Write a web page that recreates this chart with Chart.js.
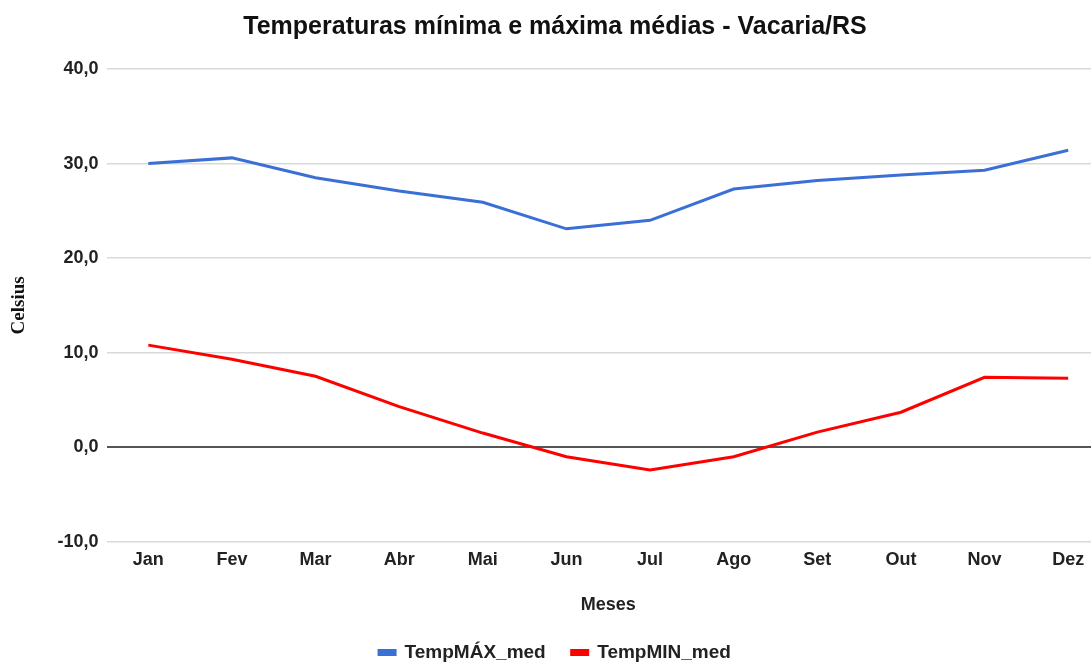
<!DOCTYPE html>
<html>
<head>
<meta charset="utf-8">
<script src="https://cdn.jsdelivr.net/npm/chart.js@4.4.1/dist/chart.umd.min.js"></script>
<style>
  html, body { margin: 0; padding: 0; background: #fff; overflow: hidden; }
  #wrap { width: 1110px; height: 672px; position: relative; }
</style>
</head>
<body>
<div id="wrap"><canvas id="chart"></canvas></div>
<script>
// ─── Dados ───────────────────────────────────────────────────────────────
const meses = ['Jan', 'Fev', 'Mar', 'Abr', 'Mai', 'Jun', 'Jul', 'Ago', 'Set', 'Out', 'Nov', 'Dez'];
const tempMaxMed = [30.0, 30.6, 28.5, 27.1, 25.9, 23.1, 24.0, 27.3, 28.2, 28.8, 29.3, 31.4];
const tempMinMed = [10.8, 9.3, 7.5, 4.3, 1.5, -1.0, -2.4, -1.0, 1.6, 3.7, 7.4, 7.3];
const yTicks = [-10, 0, 10, 20, 30, 40];

const FONT = "'Liberation Sans', Arial, sans-serif";

new Chart(document.getElementById('chart'), {
  type: 'line',
  data: {
    labels: meses,
    datasets: [
      { label: 'TempMÁX_med', data: tempMaxMed, borderColor: '#3a6fd6', backgroundColor: '#3a6fd6',
        borderWidth: 3, pointRadius: 0, tension: 0 },
      { label: 'TempMIN_med', data: tempMinMed, borderColor: '#ff0000', backgroundColor: '#ff0000',
        borderWidth: 3, pointRadius: 0, tension: 0 },
    ],
  },
  options: {
    responsive: true,
    maintainAspectRatio: false,
    animation: false,
    layout: { padding: { top: 8, bottom: 0, left: 0, right: 0 } },
    plugins: {
      title: {
        display: true,
        text: 'Temperaturas mínima e máxima médias - Vacaria/RS',
        color: '#111',
        font: { family: FONT, size: 25, weight: 'bold' },
        padding: { top: 4, bottom: 27 },
      },
      legend: {
        position: 'bottom',
        labels: {
          color: '#222',
          font: { family: FONT, size: 19, weight: 'bold' },
          boxWidth: 16,
          boxHeight: 4,
          padding: 26,
        },
      },
      tooltip: { enabled: false },
    },
    scales: {
      x: {
        offset: true,
        grid: { display: false, drawTicks: false },
        border: { display: false },
        ticks: { color: '#222', font: { family: FONT, size: 18, weight: 'bold' }, padding: 7 },
        title: {
          display: true, text: 'Meses', color: '#222',
          font: { family: FONT, size: 18, weight: 'bold' },
          padding: { top: 17, bottom: 1 },
        },
      },
      y: {
        min: -10,
        max: 40,
        afterBuildTicks: axis => { axis.ticks = yTicks.map(v => ({ value: v })); },
        afterFit: axis => { axis.width = 106.5; },
        grid: {
          drawTicks: false,
          color: ctx => (ctx.tick && ctx.tick.value === 0 ? '#555' : '#d9d9d9'),
          lineWidth: ctx => (ctx.tick && ctx.tick.value === 0 ? 2 : 1.5),
        },
        border: { display: false },
        ticks: {
          color: '#222',
          font: { family: FONT, size: 18, weight: 'bold' },
          padding: 8,
          callback: v => v.toFixed(1).replace('.', ','),
        },
        title: {
          display: true, text: 'Celsius', color: '#111',
          font: { family: "'Liberation Serif', 'Times New Roman', serif", size: 19, weight: 'bold' },
          padding: { top: 8, bottom: 0 },
        },
      },
    },
  },
});
</script>
</body>
</html>
